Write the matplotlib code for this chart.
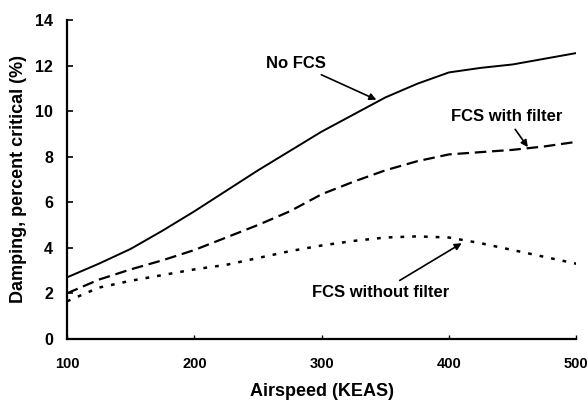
import numpy as np
import matplotlib.pyplot as plt

plt.rcParams['font.family'] = ['Liberation Sans', 'DejaVu Sans']
plt.rcParams['font.weight'] = 'bold'

# 空速 (KEAS)
airspeed = [100, 125, 150, 175, 200, 225, 250, 275, 300, 325, 350, 375, 400, 425, 450, 475, 500]
# 阻尼 (%)
no_fcs = [2.7, 3.3, 3.95, 4.75, 5.6, 6.5, 7.4, 8.25, 9.1, 9.85, 10.6, 11.2, 11.7, 11.9, 12.05, 12.3, 12.55]
fcs_with_filter = [2.0, 2.6, 3.05, 3.45, 3.9, 4.45, 5.0, 5.6, 6.35, 6.9, 7.4, 7.8, 8.1, 8.2, 8.3, 8.45, 8.65]
fcs_without_filter = [1.65, 2.25, 2.55, 2.8, 3.05, 3.25, 3.55, 3.85, 4.1, 4.3, 4.45, 4.5, 4.45, 4.2, 3.9, 3.6, 3.3]

fig = plt.figure(figsize=(5.88, 4.01), dpi=100)
ax = fig.add_axes([0.114, 0.155, 0.866, 0.795])

ax.plot(airspeed, no_fcs, color='black', linestyle='-', linewidth=1.4)
ax.plot(airspeed, fcs_with_filter, color='black', linestyle=(0, (5.2, 2.6)), linewidth=1.6)
ax.plot(airspeed, fcs_without_filter, color='black', linestyle=(0, (1.5, 3.2)), linewidth=1.8)

arrow = dict(arrowstyle='-|>', color='black', lw=1.2, mutation_scale=10, shrinkA=2, shrinkB=0)
ax.annotate('No FCS', xy=(343, 10.5), xytext=(280, 12.1), ha='center', va='center',
            fontsize=12, fontweight='bold', arrowprops=arrow)
ax.annotate('FCS with filter', xy=(462, 8.42), xytext=(445, 9.75), ha='center', va='center',
            fontsize=12, fontweight='bold', arrowprops=arrow)
ax.annotate('FCS without filter', xy=(410, 4.2), xytext=(346, 2.05), ha='center', va='center',
            fontsize=12, fontweight='bold', arrowprops=arrow)

ax.set_xlim(100, 500)
ax.set_ylim(0, 14)
ax.set_xticks([100, 200, 300, 400, 500])
ax.set_yticks([0, 2, 4, 6, 8, 10, 12, 14])
ax.spines['top'].set_visible(False)
ax.spines['right'].set_visible(False)
ax.spines['left'].set_linewidth(1.6)
ax.spines['bottom'].set_linewidth(1.6)
ax.tick_params(axis='y', direction='in', length=4, width=1.2, labelsize=11.5, pad=10)
ax.tick_params(axis='x', direction='in', length=3, width=1.0, labelsize=10.5, pad=13)
for lab in ax.get_xticklabels() + ax.get_yticklabels():
    lab.set_fontweight('bold')

ax.set_xlabel('Airspeed (KEAS)', fontsize=13, fontweight='bold', labelpad=9)
ax.set_ylabel('Damping, percent critical (%)', fontsize=13, fontweight='bold', labelpad=6)

fig.savefig('out.png', dpi=100)
